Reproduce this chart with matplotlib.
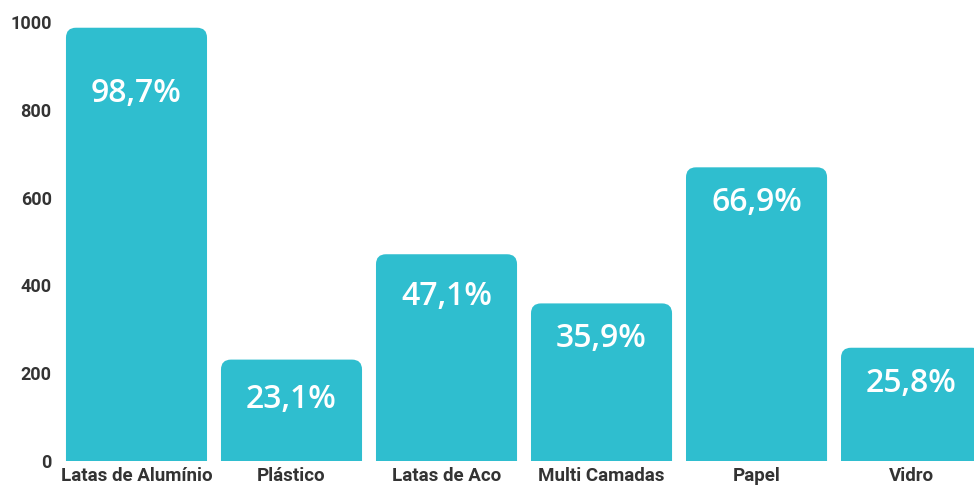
import matplotlib
matplotlib.use("Agg")
import matplotlib.pyplot as plt
from matplotlib.patches import FancyBboxPatch

categories = ["Latas de Alumínio", "Plástico", "Latas de Aco", "Multi Camadas", "Papel", "Vidro"]
percent = [98.7, 23.1, 47.1, 35.9, 66.9, 25.8]
# distance of the percent label below the bar top, in pixels
label_drop = [66, 40, 42, 35, 35, 36]

heights = [p * 10 for p in percent]
BAR_COLOR = "#2fbecf"

fig = plt.figure(figsize=(9.74, 4.86), dpi=100)
W, H = 974, 486
ax = fig.add_axes([60 / W, (H - 461) / H, (974 - 60) / W, (461 - 15) / H])

xs = list(range(len(categories)))
ax.set_xlim(-0.4935, 5.403)
ax.set_ylim(0, 1016)

# rounded tops: convert a pixel radius into data units for both axes
px_x = 1 / 155
px_y = 1000 / 439
width = 0.91
for x, h in zip(xs, heights):
    box = FancyBboxPatch((x - width / 2, -60), width, h + 60,
                         boxstyle=f"round,pad=0,rounding_size={10 * px_x}",
                         mutation_aspect=px_y / px_x,
                         facecolor=BAR_COLOR, edgecolor="none", clip_on=True)
    ax.add_patch(box)

for x, h, p, d in zip(xs, heights, percent, label_drop):
    ax.annotate(f"{p:.1f}%".replace(".", ","), (x, h), xytext=(0, -d * 0.72),
                textcoords="offset points", ha="center", va="center",
                color="white", fontsize=23, fontweight="semibold",
                family="Open Sans")

ax.set_xticks(xs)
ax.set_xticklabels(categories, fontsize=13.5, fontweight="bold", color="#333333",
                   family="Roboto")
ax.set_yticks([0, 200, 400, 600, 800, 1000])
ax.set_yticklabels(["0", "200", "400", "600", "800", "1000"], fontsize=13,
                   fontweight="bold", color="#333333", family="Roboto")
ax.tick_params(axis="both", length=0)
ax.tick_params(axis="x", pad=4)
ax.tick_params(axis="y", pad=6)
for s in ax.spines.values():
    s.set_visible(False)

fig.savefig("out.png", dpi=100)
